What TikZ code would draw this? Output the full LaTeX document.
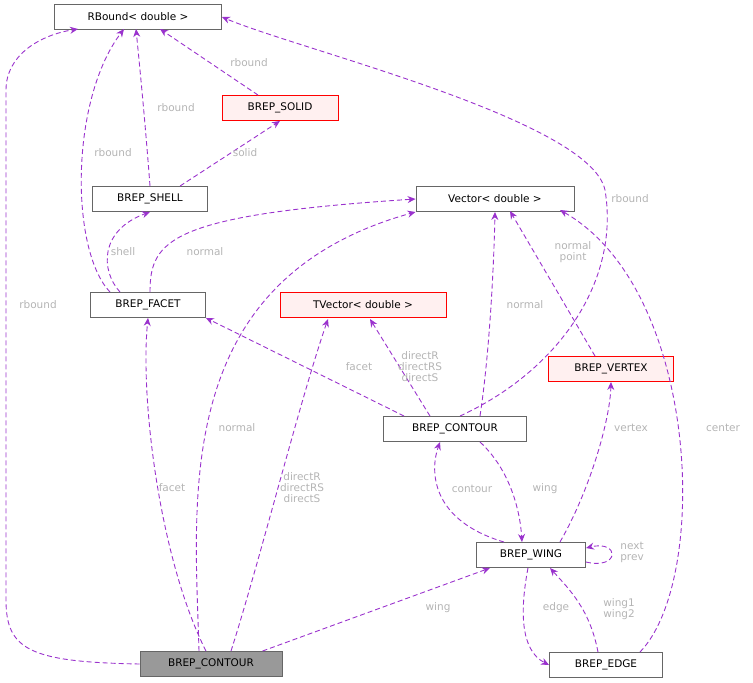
\documentclass[tikz,border=0pt]{standalone}
\usepackage{fontspec}
\setmainfont{DejaVu Sans}
\usetikzlibrary{arrows.meta}
\definecolor{edgecol}{HTML}{9A32CD}
\definecolor{lblgray}{HTML}{B4B4B4}
\definecolor{redbox}{HTML}{FFF0F0}

\begin{document}
\begin{tikzpicture}[x=1pt,y=-1pt,
    cls/.style={draw=black!60, line width=0.9pt, fill=white, inner sep=0pt, minimum height=25pt, font=\fontsize{10.5}{12}\selectfont},
    miss/.style={cls, draw=red, fill=redbox},
    dep/.style={draw=edgecol, line width=0.9pt, dash pattern=on 5pt off 3pt, -{Stealth[length=8pt,width=7pt,fill=edgecol]}},
    lbl/.style={text=lblgray, font=\fontsize{10.5}{11}\selectfont, align=center}]
    \useasboundingbox (0,0) rectangle (753,683);
    % classes
    \node[cls, minimum width=167pt] (rbound) at (138,17) {RBound< double >};
    \node[miss, minimum width=116pt] (solid) at (280,108) {BREP\_SOLID};
    \node[cls, minimum width=115pt] (shell) at (150,199) {BREP\_SHELL};
    \node[cls, minimum width=158pt] (vector) at (495,199) {Vector< double >};
    \node[cls, minimum width=115pt] (facet) at (148,305) {BREP\_FACET};
    \node[miss, minimum width=166pt] (tvector) at (363,305) {TVector< double >};
    \node[miss, minimum width=125pt] (vertex) at (611,369) {BREP\_VERTEX};
    \node[cls, minimum width=143pt] (contour) at (455,429) {BREP\_CONTOUR};
    \node[cls, minimum width=109pt] (wing) at (531,555) {BREP\_WING};
    \node[cls, minimum width=113pt] (edge) at (606,665) {BREP\_EDGE};
    \node[cls, minimum width=142pt, fill=black!40] (main) at (211,664) {BREP\_CONTOUR};
    % dependencies of the main class
    \draw[dep] (main.west) .. controls (30,662) and (6,650) .. (6,600) -- (6,90) .. controls (6,55) and (40,35) .. (78,29);
    \draw[dep] (main.north) ++(-5,0) .. controls (160,560) and (140,400) .. (facet.south);
    \draw[dep] (main.north) ++(-12,0) .. controls (195,500) and (170,280) .. (vector.south west);
    \draw[dep] (main.north) ++(20,0) .. controls (260,560) and (300,400) .. (328,319);
    \draw[dep] (main.north east) ++(-20,0) -- (490,568);
    \node[lbl] at (38,305) {rbound};
    \node[lbl] at (172,488) {facet};
    \node[lbl] at (237,428) {normal};
    \node[lbl] at (302,488) {directR\\directRS\\directS};
    \node[lbl] at (438,608) {wing};
    % facet, shell, solid
    \draw[dep] (facet.north) ++(-38,0) .. controls (70,250) and (70,100) .. (124,29);
    \draw[dep] (facet.north) ++(-28,0) .. controls (100,270) and (100,230) .. (shell.south);
    \draw[dep] (facet.north) ++(2,0) .. controls (150,240) and (170,215) .. (vector.west);
    \draw[dep] (shell.north) .. controls (145,120) and (140,70) .. (136,29);
    \draw[dep] (shell.north) ++(30,0) -- (solid.south);
    \draw[dep] (solid.north) ++(-22,0) -- (160,29);
    \node[lbl] at (113,153) {rbound};
    \node[lbl] at (123,252) {shell};
    \node[lbl] at (205,252) {normal};
    \node[lbl] at (176,108) {rbound};
    \node[lbl] at (245,153) {solid};
    \node[lbl] at (249,63) {rbound};
    % contour
    \draw[dep] (contour.north) ++(5,0) .. controls (560,370) and (620,280) .. (605,190) .. controls (590,120) and (300,50) .. (rbound.east);
    \draw[dep] (contour.north west) ++(21,0) -- (facet.south east);
    \draw[dep] (contour.north) ++(-25,0) -- (370,319);
    \draw[dep] (contour.north) ++(25,0) .. controls (490,350) and (494,260) .. (vector.south);
    \draw[dep] (vertex.north) ++(-16,0) -- (510,211);
    \node[lbl] at (630,199) {rbound};
    \node[lbl] at (359,367) {facet};
    \node[lbl] at (420,367) {directR\\directRS\\directS};
    \node[lbl] at (525,305) {normal};
    \node[lbl] at (573,252) {normal\\point};
    % wing, edge
    \draw[dep] (wing.north west) ++(28,0) .. controls (430,520) and (430,470) .. (440,442);
    \draw[dep] (contour.south) ++(25,0) .. controls (510,470) and (520,510) .. (522,542);
    \draw[dep] (wing.north east) ++(-26,0) .. controls (590,490) and (610,420) .. (vertex.south);
    \draw[dep] (wing.east) ++(0,7) .. controls (620,570) and (620,540) .. (586,548);
    \draw[dep] (wing.south) ++(-3,0) .. controls (520,610) and (520,650) .. (edge.west);
    \draw[dep] (edge.north) ++(-8,0) .. controls (590,610) and (570,590) .. (550,568);
    \draw[dep] (edge.north east) ++(-23,0) .. controls (710,580) and (700,290) .. (560,210);
    \node[lbl] at (472,489) {contour};
    \node[lbl] at (545,489) {wing};
    \node[lbl] at (631,428) {vertex};
    \node[lbl] at (632,552) {next\\prev};
    \node[lbl] at (556,608) {edge};
    \node[lbl] at (619,609) {wing1\\wing2};
    \node[lbl] at (723,428) {center};
\end{tikzpicture}
\end{document}
